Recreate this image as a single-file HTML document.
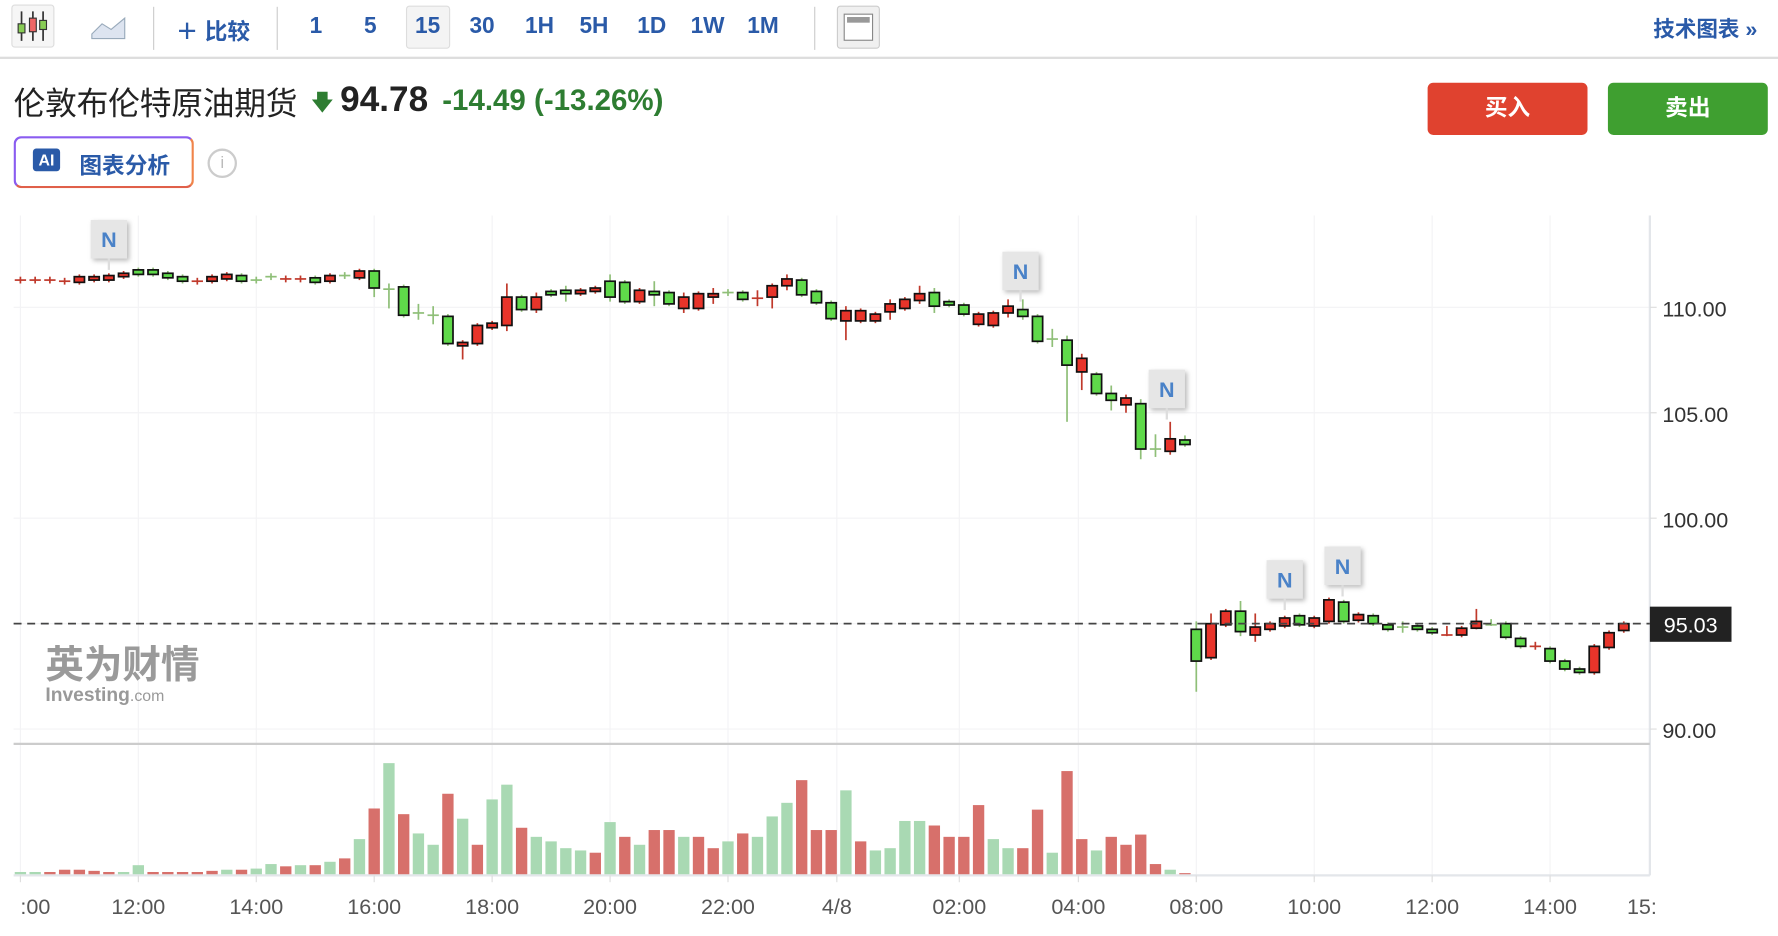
<!DOCTYPE html><html><head><meta charset="utf-8"><style>
html,body{margin:0;padding:0;background:#fff;overflow:hidden;width:1778px;height:936px}
#w{width:1568px;height:826px;transform:scale(1.13393);transform-origin:0 0;position:relative;font-family:"Liberation Sans","Noto Sans CJK SC",sans-serif}
.a{position:absolute;white-space:nowrap}
.tb{color:#2a5aa8;font-weight:bold;font-size:20px;top:12px}
</style></head><body><div id="w">
<div class="a" style="left:10px;top:4px;width:36px;height:36px;border:1px solid #ddd;border-radius:3px;background:#f6f6f6"></div>
<svg class="a" style="left:14px;top:8px" width="30" height="30"><g stroke="#333" stroke-width="1.5"><line x1="5" y1="2" x2="5" y2="28"/><line x1="15" y1="2" x2="15" y2="28"/><line x1="24" y1="2" x2="24" y2="28"/></g><rect x="2" y="13" width="6" height="8" fill="#8c5" stroke="#333"/><rect x="12" y="8" width="6" height="12" fill="#e66" stroke="#333"/><rect x="21" y="10" width="6" height="8" fill="#8c5" stroke="#333"/></svg>
<svg class="a" style="left:80px;top:10px" width="32" height="26"><path d="M1 20 L10 11 L18 16 L30 6 L30 24 L1 24Z" fill="#dde4f0" stroke="#9ab"/></svg>
<div class="a" style="left:135px;top:6px;width:1px;height:38px;background:#ccc"></div>
<div class="a tb" style="left:155px">＋ 比较</div>
<div class="a" style="left:244px;top:6px;width:1px;height:38px;background:#ccc"></div>
<div class="a tb" style="left:273px">1</div><div class="a tb" style="left:321px">5</div>
<div class="a" style="left:358px;top:5px;width:37px;height:36px;border:1px solid #ddd;border-radius:3px;background:#f4f4f4"></div>
<div class="a tb" style="left:366px">15</div><div class="a tb" style="left:414px">30</div><div class="a tb" style="left:463px">1H</div><div class="a tb" style="left:511px">5H</div><div class="a tb" style="left:562px">1D</div><div class="a tb" style="left:609px">1W</div><div class="a tb" style="left:659px">1M</div>
<div class="a" style="left:718px;top:6px;width:1px;height:38px;background:#ccc"></div>
<div class="a" style="left:738px;top:5px;width:36px;height:36px;border:1px solid #ccc;border-radius:3px;background:#f0f0f0"></div>
<div class="a" style="left:744px;top:12px;width:24px;height:22px;border:1px solid #888;background:#fff"><div style="margin:2px;height:5px;background:#999"></div></div>
<div class="a tb" style="left:1458px;font-size:19px;top:11px">技术图表 »</div>
<div class="a" style="left:0;top:50px;width:1568px;height:2px;background:#ddd"></div>
<div class="a" style="left:12px;top:70px;font-size:28px;color:#222;letter-spacing:-0.2px">伦敦布伦特原油期货</div>
<div class="a" style="left:274px;top:76px;font-size:20px;color:#2e7d32">🡇</div>
<div class="a" style="left:300px;top:70px;font-size:31px;color:#222;font-weight:bold">94.78</div>
<div class="a" style="left:390px;top:73px;font-size:26px;color:#2e7d32;font-weight:bold">-14.49 (-13.26%)</div>
<div class="a" style="left:12px;top:120px;width:155px;height:42px;border:2px solid #8a5cf0;border-right-color:#f0844a;border-bottom-color:#e0604a;border-radius:7px"></div>
<div class="a" style="left:29px;top:131px;width:24px;height:20px;background:#2a5aa8;border-radius:3px;color:#fff;font-size:14px;font-weight:bold;text-align:center;line-height:20px">AI</div>
<div class="a" style="left:70px;top:130px;font-size:20px;color:#2a5aa8;font-weight:bold">图表分析</div>
<div class="a" style="left:183px;top:131px;width:22px;height:22px;border:2px solid #ccc;border-radius:50%;color:#bbb;text-align:center;font-size:15px;line-height:22px">i</div>
<div class="a" style="left:1259px;top:73px;width:141px;height:46px;background:#e0422f;border-radius:5px;color:#fff;font-size:20px;text-align:center;line-height:46px;font-weight:bold">买入</div>
<div class="a" style="left:1418px;top:73px;width:141px;height:46px;background:#3f9f30;border-radius:5px;color:#fff;font-size:20px;text-align:center;line-height:46px;font-weight:bold">卖出</div>
<svg class="a" style="left:0;top:0" width="1568" height="826" id="s"></svg>
</div>
<script>
var s='';
function L(x1,y1,x2,y2,c,w,d){s+=`<line x1="${x1}" y1="${y1}" x2="${x2}" y2="${y2}" stroke="${c}" stroke-width="${w||1}" ${d?'stroke-dasharray="'+d+'"':''}/>`}
function T(x,y,t,sz,c,a,b){s+=`<text x="${x}" y="${y}" font-size="${sz}" fill="${c}" text-anchor="${a||'start'}" ${b?'font-weight="bold"':''} font-family="Liberation Sans,sans-serif">${t}</text>`}
[18,122,226,330,434,538,642,738,846,951,1055,1159,1263,1367].forEach(x=>L(x,190,x,775,'#f3f3f5'));
[271,364,457,550,643].forEach(y=>L(12,y,1455,y,'#f3f3f5'));
L(1455,190,1455,772,'#e3e6ea',2);L(12,656,1455,656,'#ccc',2);L(12,772,1455,772,'#e3e6ea',2);
[18,122,226,330,434,538,642,738,846,951,1055,1159,1263,1367].forEach(x=>L(x,772,x,778,'#ddd'));
[[110,271],[105,364],[100,457],[90,643]].forEach(p=>{L(1455,p[1],1461,p[1],'#ddd');T(1466,p[1]+8,p[0].toFixed(2),19,'#333')});
var xl=[[18,':00'],[122,'12:00'],[226,'14:00'],[330,'16:00'],[434,'18:00'],[538,'20:00'],[642,'22:00'],[738,'4/8'],[846,'02:00'],[951,'04:00'],[1055,'08:00'],[1159,'10:00'],[1263,'12:00'],[1367,'14:00'],[1448,'15:']];
xl.forEach(p=>T(p[0],806,p[1],19,'#555',p[0]==18?'start':'middle'));
var vol=[[18,769,'g'],[31,769,'g'],[44,769,'r'],[57,767,'r'],[70,767,'r'],[83,768,'r'],[96,769,'r'],[109,769,'g'],[122,763,'g'],[135,769,'r'],[148,769,'r'],[161,769,'r'],[174,769,'r'],[187,768,'r'],[200,767,'g'],[213,767,'r'],[226,766,'g'],[239,762,'g'],[252,764,'r'],[265,763,'g'],[278,763,'r'],[291,760,'g'],[304,757,'r'],[317,740,'g'],[330,713,'r'],[343,673,'g'],[356,718,'r'],[369,735,'g'],[382,745,'g'],[395,700,'r'],[408,722,'g'],[421,745,'r'],[434,705,'g'],[447,692,'g'],[460,730,'r'],[473,738,'g'],[486,742,'g'],[499,748,'g'],[512,750,'g'],[525,752,'r'],[538,725,'g'],[551,738,'r'],[564,745,'g'],[577,732,'r'],[590,732,'r'],[603,738,'g'],[616,738,'r'],[629,748,'r'],[642,742,'g'],[655,735,'r'],[668,738,'g'],[681,720,'g'],[694,708,'g'],[707,688,'r'],[720,732,'r'],[733,732,'r'],[746,697,'g'],[759,742,'r'],[772,750,'g'],[785,748,'g'],[798,724,'g'],[811,724,'g'],[824,728,'r'],[837,738,'r'],[850,738,'r'],[863,710,'r'],[876,740,'g'],[889,748,'g'],[902,748,'r'],[915,714,'r'],[928,752,'g'],[941,680,'r'],[954,740,'r'],[967,750,'g'],[980,738,'r'],[993,745,'r'],[1006,736,'r'],[1019,762,'r'],[1032,767,'g'],[1045,770,'r']];
vol.forEach(v=>s+=`<rect x="${v[0]-5}" y="${v[1]}" width="10" height="${771-v[1]}" fill="${v[2]=='r'?'#d7706b':'#a9d9b3'}"/>`);
var c=[[18,246,248,'r'],[31,246,248,'r'],[44,246,248,'r'],[57,247,249,'r'],[70,244,249,'r'],[83,244,247,'r'],[96,243,247,'r'],[109,241,244,'r'],[122,238,242,'g'],[135,238,242,'g'],[148,241,245,'g'],[161,244,248,'g'],[174,247,249,'r'],[187,244,248,'r'],[200,242,246,'r'],[213,243,248,'g'],[226,246,248,'g'],[239,243,245,'g'],[252,245,247,'r'],[265,245,247,'r'],[278,245,249,'g'],[291,243,248,'r'],[304,242,244,'g'],[317,239,245,'r'],[330,239,254,'g',237,262],[343,254,256,'g',250,272],[356,253,278,'g'],[369,275,277,'g',268,282],[382,277,279,'g',270,286],[395,279,303,'g'],[408,302,305,'r',300,317],[421,287,303,'r'],[434,285,289,'r'],[447,262,287,'r',250,292],[460,262,273,'g'],[473,262,273,'r',258,276],[486,257,260,'g'],[499,256,259,'g',252,266],[512,256,259,'r'],[525,254,257,'r'],[538,248,262,'g',242,266],[551,249,266,'g'],[564,256,266,'r'],[577,257,260,'g',248,270],[590,258,268,'g'],[603,262,272,'r',258,276],[616,259,272,'r'],[629,259,262,'r',254,268],[642,257,259,'g'],[655,258,264,'g'],[668,262,264,'r',256,270],[681,252,262,'r',250,272],[694,246,252,'r',242,256],[707,247,260,'g'],[720,257,267,'g'],[733,267,281,'g'],[746,274,283,'r',270,300],[759,274,283,'r'],[772,277,283,'r'],[785,268,275,'r',264,282],[798,264,272,'r'],[811,259,265,'r',252,268],[824,258,270,'g',254,276],[837,266,269,'g'],[850,269,277,'g'],[863,277,286,'r'],[876,276,287,'r'],[889,270,276,'r',264,280],[902,273,279,'g',264,282],[915,279,301,'g'],[928,298,300,'g',290,306],[941,300,322,'g',296,372],[954,316,328,'r',312,344],[967,330,347,'g'],[980,347,353,'g',340,362],[993,351,357,'r',348,364],[1006,356,396,'g',352,405],[1019,395,397,'g',383,403],[1032,387,398,'r',372,401],[1045,388,392,'g',384,394],
[1055,555,583,'g',548,610],[1068,550,580,'r',541,582],[1081,539,551,'r'],[1094,539,557,'g',530,561],[1107,553,560,'r',541,566],[1120,550,555,'r'],[1133,545,552,'r'],[1146,543,551,'g'],[1159,545,552,'r'],[1172,529,548,'r'],[1185,531,548,'g'],[1198,542,547,'r'],[1211,543,550,'g'],[1224,551,555,'g'],[1237,552,554,'g',548,558],[1250,552,555,'g'],[1263,555,558,'g'],[1276,559,561,'r',552,561],[1289,554,560,'r'],[1302,548,554,'r',537,555],[1315,550,552,'g',546,552],[1328,550,562,'g'],[1341,563,570,'g'],[1354,569,571,'r',566,573],[1367,572,583,'g'],[1380,583,590,'g'],[1393,590,593,'g'],[1406,570,593,'r'],[1419,558,571,'r'],[1432,550,556,'r']];
c.forEach(k=>{var r=k[3]=='r';var wt=k[4]||k[1]-2,wb=k[5]||k[2]+2;var wc=r?'#c0392b':'#8fbf78';L(k[0],wt,k[0],wb,wc,1.5);
 if(k[2]-k[1]<=2){L(k[0]-5,k[1]+1,k[0]+5,k[1]+1,wc,1.5)}else s+=`<rect x="${k[0]-4.5}" y="${k[1]}" width="9" height="${k[2]-k[1]}" fill="${r?'#e8342a':'#5fd94a'}" stroke="#111" stroke-width="1.5"/>`});
L(12,550,1455,550,'#444',1.5,'7,5');
s+=`<rect x="1455" y="535" width="72" height="31" fill="#222"/>`;T(1491,558,'95.03',19,'#fff','middle');
[[96,194],[900,222],[1029,326],[1133,494],[1184,482]].forEach(n=>{s+=`<rect x="${n[0]-16}" y="${n[1]}" width="32" height="34" fill="#e6e6e6" style="filter:drop-shadow(2px 2px 2px #bbb)"/>`;L(n[0],n[1]+34,n[0],n[1]+44,'#ddd',2);T(n[0],n[1]+24,'N',19,'#4a82c8','middle',1);});
s+=`<text x="40" y="598" font-size="34" font-weight="bold" fill="#9a9a9a" font-family="Noto Sans CJK SC,sans-serif">英为财情</text>`;
s+=`<text x="40" y="618" font-size="17" font-weight="bold" fill="#999" font-family="Liberation Sans,sans-serif">Investing<tspan font-weight="normal" font-size="14">.com</tspan></text>`;
document.getElementById('s').innerHTML=s;
</script></body></html>
